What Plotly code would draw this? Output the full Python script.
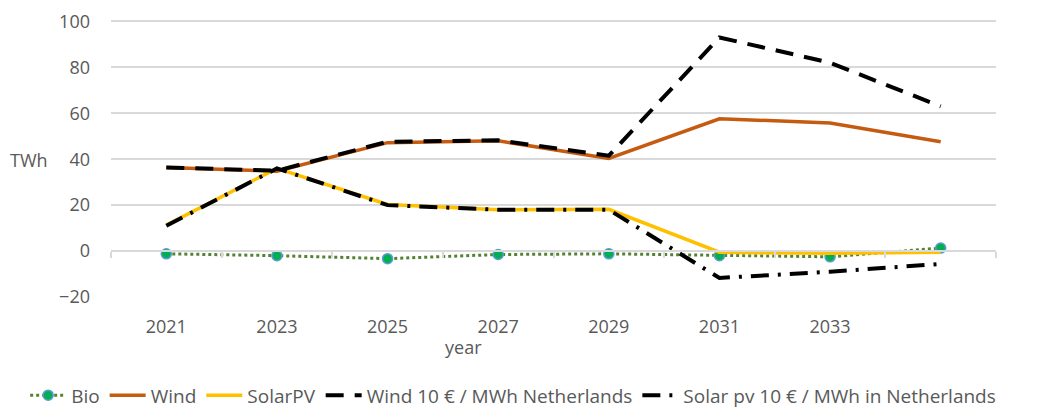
import plotly.graph_objects as go

# categories (the last one has no label on the axis)
years = [2021, 2023, 2025, 2027, 2029, 2031, 2033, 2035]
year_labels = ["2021", "2023", "2025", "2027", "2029", "2031", "2033", ""]

bio = [-1.2, -2.0, -3.3, -1.5, -1.2, -2.0, -2.5, 1.3]
wind = [36.4, 34.8, 47.2, 48.0, 40.3, 57.6, 55.8, 47.6]
solar_pv = [11.3, 36.0, 20.3, 18.0, 18.2, -0.5, -1.0, -0.5]
wind_10 = [36.4, 35.0, 47.6, 48.2, 41.5, 93.0, 82.0, 63.0]
solar_10 = [11.0, 36.0, 20.0, 18.0, 18.0, -11.7, -9.0, -5.6]

grey_text = "#595959"
grid = "#D9D9D9"

fig = go.Figure()

fig.add_trace(go.Scatter(
    x=years, y=bio, mode="lines+markers", name="Bio",
    line=dict(color="#548235", width=3, dash="dot"),
    marker=dict(size=10, color="#00B050", line=dict(color="#5B9BD5", width=1.5)),
))
fig.add_trace(go.Scatter(
    x=years, y=wind, mode="lines", name="Wind",
    line=dict(color="#C55A11", width=3.5),
))
fig.add_trace(go.Scatter(
    x=years, y=solar_pv, mode="lines", name="SolarPV",
    line=dict(color="#FFC000", width=3.5),
))
fig.add_trace(go.Scatter(
    x=years, y=wind_10, mode="lines", name="Wind 10 € / MWh Netherlands",
    line=dict(color="black", width=4, dash="18px,11px"),
))
fig.add_trace(go.Scatter(
    x=years, y=solar_10, mode="lines", name="Solar pv 10 € / MWh in Netherlands",
    line=dict(color="black", width=4, dash="18px,9px,3px,9px"),
))

# invisible helper trace so the second x axis (drawn at y=0) exists
fig.add_trace(go.Scatter(x=[years[0]], y=[0], xaxis="x2", mode="markers",
                         marker=dict(opacity=0), showlegend=False, hoverinfo="skip"))

font = "Open Sans, Liberation Sans, sans-serif"

# the page body adds an 8px offset, so the figure is a bit smaller than the window
fig.update_layout(
    width=1048, height=402,
    margin=dict(l=103, r=60, t=12, b=113, autoexpand=False),
    plot_bgcolor="white", paper_bgcolor="white",
    font=dict(family=font, size=18, color=grey_text),
    showlegend=True,
    legend=dict(orientation="h", xref="paper", x=-0.097, xanchor="left",
                yref="paper", y=-0.355, yanchor="middle",
                font=dict(size=19, color=grey_text), itemwidth=36,
                tracegroupgap=0),
    xaxis=dict(range=[2020, 2036], tickmode="array", tickvals=years, ticktext=year_labels,
               showgrid=False, zeroline=False, showline=False, ticks="", automargin=False,
               ticklabelstandoff=17, tickfont=dict(size=18, color=grey_text)),
    xaxis2=dict(range=[2020, 2036], overlaying="x", anchor="free", position=20 / 120,
                tickmode="array", tickvals=list(range(2020, 2037, 2)), automargin=False,
                showticklabels=False, ticks="outside", ticklen=6, tickcolor=grid, tickwidth=1.5,
                showline=True, linecolor=grid, linewidth=1.5, showgrid=False, zeroline=False),
    yaxis=dict(range=[-20, 100.6], dtick=20, showgrid=True, gridcolor=grid, gridwidth=1.5,
               zeroline=False, showline=False, ticklabelstandoff=20, automargin=False,
               ticklabeloverflow="allow", tickfont=dict(size=18, color=grey_text)),
    annotations=[
        dict(text="TWh", xref="paper", yref="paper", x=(29 - 111) / 885, y=(297 - 160) / 277,
             xanchor="center", yanchor="middle", showarrow=False,
             font=dict(size=18, color=grey_text)),
        dict(text="year", xref="paper", yref="paper", x=(463 - 111) / 885, y=-(347 - 297) / 277,
             xanchor="center", yanchor="middle", showarrow=False,
             font=dict(size=18, color=grey_text)),
    ],
)

fig.write_html("out.html")
